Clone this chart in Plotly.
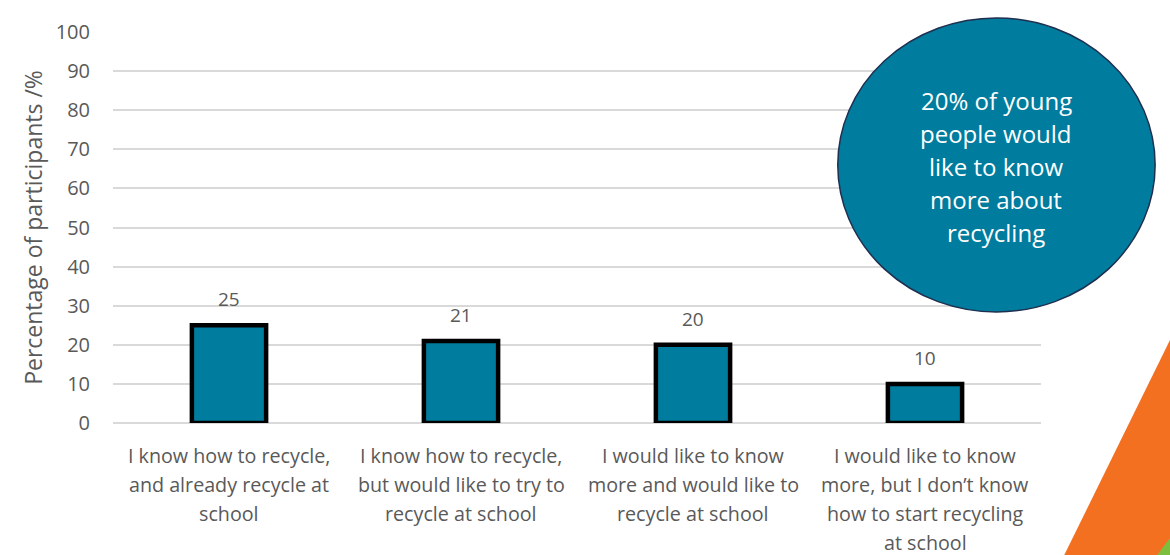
import plotly.graph_objects as go

categories = [
    "I know how to recycle,<br>and already recycle at<br>school",
    "I know how to recycle,<br>but would like to try to<br>recycle at school",
    "I would like to know<br>more and would like to<br>recycle at school",
    "I would like to know<br>more, but I don’t know<br>how to start recycling<br>at school",
]
values = [25, 21, 20, 10]
y_ticks = [0, 10, 20, 30, 40, 50, 60, 70, 80, 90, 100]
callout_lines = ["20% of young", "people would", "like to know", "more about", "recycling"]

FONT = "Open Sans"
GRAY = "#595959"
TEAL = "#007C9E"

fig = go.Figure()
fig.add_trace(go.Bar(
    x=categories, y=values,
    marker=dict(color=TEAL, line=dict(color="black", width=4.5)),
    width=0.32, hoverinfo="y",
))

# value labels above bars
for c, v in zip(categories, values):
    fig.add_annotation(x=c, y=v, text=str(v), showarrow=False,
                       xanchor="center", yanchor="bottom", yshift=11,
                       font=dict(family=FONT, size=19, color=GRAY))

# category labels (one annotation per line for Excel-like line spacing)
for c in categories:
    for i, line in enumerate(c.split("<br>")):
        fig.add_annotation(x=c, y=0, text=line, showarrow=False,
                           xanchor="center", yanchor="middle", yshift=-(32 + 29 * i),
                           font=dict(family=FONT, size=19.7, color=GRAY))

fig.update_layout(
    width=1170, height=555,
    margin=dict(l=113, r=129, t=32, b=132),
    paper_bgcolor="white", plot_bgcolor="white",
    showlegend=False, hovermode=False,
    font=dict(family=FONT, color=GRAY),
)
fig.update_yaxes(
    range=[0, 100], tickvals=y_ticks, showgrid=True, gridcolor="#D9D9D9", gridwidth=1.5,
    zeroline=True, zerolinecolor="#D9D9D9", zerolinewidth=1.5,
    tickfont=dict(family=FONT, size=20, color=GRAY), ticks="", ticklabelstandoff=22,
    title=dict(text="Percentage of participants /%", font=dict(family=FONT, size=23, color=GRAY), standoff=6),
    automargin=False,
)
fig.update_xaxes(showticklabels=False, ticks="", showline=False, automargin=False)

# callout ellipse
fig.add_shape(type="circle", xref="paper", yref="paper",
              x0=0.781, x1=1.123, y0=0.284, y1=1.036,
              fillcolor=TEAL, line=dict(color="#1F2F4F", width=1.5), layer="above")
n = len(callout_lines)
for i, line in enumerate(callout_lines):
    fig.add_annotation(xref="paper", yref="paper", x=0.952, y=0.657, text=line,
                       showarrow=False, xanchor="center", yanchor="middle",
                       yshift=(n - 1) / 2 * 33 - 33 * i,
                       font=dict(family=FONT, size=24, color="white"))

# decorative corner triangles
fig.add_shape(type="path", xref="paper", yref="paper",
              path="M 1.139 0.212 L 1.025 -0.338 L 1.139 -0.338 Z",
              fillcolor="#F37021", line=dict(width=0), layer="above")
fig.add_shape(type="path", xref="paper", yref="paper",
              path="M 1.125 -0.338 L 1.139 -0.294 L 1.139 -0.338 Z",
              fillcolor="#7DBE3F", line=dict(width=0), layer="above")

fig.write_html("out.html", config={"displayModeBar": False},
               post_script="document.body.style.margin='0';document.body.style.overflow='hidden';")
